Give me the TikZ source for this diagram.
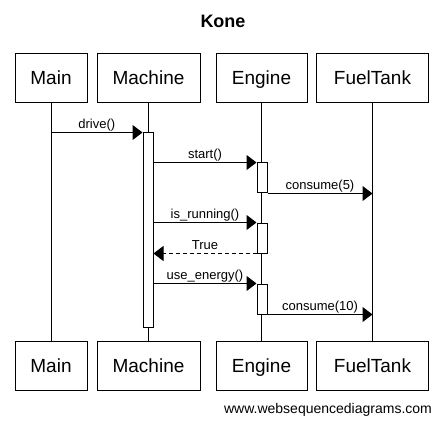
\documentclass[tikz,border=0pt]{standalone}
\usepackage{fontspec}
\setmainfont{Liberation Sans}
\usetikzlibrary{calc,arrows.meta}

\tikzset{
	lifebox/.style={draw, line width=1pt, inner sep=0pt, minimum height=49pt, text height=13.6pt, text depth=0pt, font=\fontsize{19}{22}\selectfont},
	actbox/.style={draw, fill=white, line width=1pt, inner sep=0pt, minimum width=10pt},
	msg/.style={line width=1pt, -{Triangle[length=10pt,width=15pt]}},
	ret/.style={msg, dash pattern=on 4pt off 3pt},
	msglabel/.style={above, inner sep=1pt, text height=9pt, text depth=2.5pt, font=\fontsize{13}{15}\selectfont}
}

\begin{document}
\begin{tikzpicture}[x=1pt,y=-1pt]
				\useasboundingbox (0,0) rectangle (442,425);
				
				\node[font=\bfseries\fontsize{18}{21}\selectfont] (title) at (223,21.5) {Kone};
				
				\foreach \nm/\x/\w/\txt in {main/51/72/Main, machine/148.5/103/Machine, engine/261.5/91/Engine, tank/372.5/112/FuelTank}{
					\node[lifebox, minimum width=\w pt] (\nm Top) at (\x,78) {\txt};
					\node[lifebox, minimum width=\w pt] (\nm Bot) at (\x,365.5) {\txt};
					\draw[line width=1pt] (\nm Top.south) -- (\nm Bot.north);}
				
				\node[actbox, minimum height=194pt] (actMachine) at (148,230) {};
				\node[actbox, minimum height=30pt] (actEngineA) at (262,178) {};
				\node[actbox, minimum height=30pt] (actEngineB) at (262,238) {};
				\node[actbox, minimum height=30pt] (actEngineC) at (262,299) {};
				
				\draw[msg] (mainTop.south |- actMachine.north) -- node[msglabel]{drive()} (actMachine.north west);
				\draw[msg] (actMachine.east |- actEngineA.north) -- node[msglabel]{start()} (actEngineA.north west);
				\draw[msg] (actEngineA.south east) -- node[msglabel]{consume(5)} (tankTop.south |- actEngineA.south);
				\draw[msg] (actMachine.east |- actEngineB.north) -- node[msglabel]{is\_running()} (actEngineB.north west);
				\draw[ret] (actEngineB.south west) -- node[msglabel]{True} (actMachine.east |- actEngineB.south);
				\draw[msg] (actMachine.east |- actEngineC.north) -- node[msglabel]{use\_energy()} (actEngineC.north west);
				\draw[msg] (actEngineC.south east) -- node[msglabel]{consume(10)} (tankTop.south |- actEngineC.south);
				
				\node[font=\fontsize{14}{17}\selectfont] (footer) at (328,410) {www.websequencediagrams.com};
\end{tikzpicture}
\end{document}
